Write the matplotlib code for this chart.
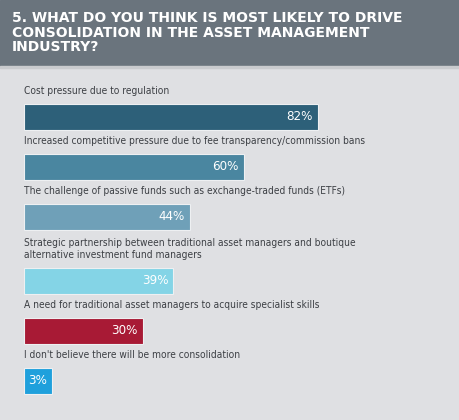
import matplotlib.pyplot as plt
from matplotlib.patches import Rectangle
from matplotlib import font_manager

title = "5. WHAT DO YOU THINK IS MOST LIKELY TO DRIVE\nCONSOLIDATION IN THE ASSET MANAGEMENT\nINDUSTRY?"

categories = [
    "Cost pressure due to regulation",
    "Increased competitive pressure due to fee transparency/commission bans",
    "The challenge of passive funds such as exchange-traded funds (ETFs)",
    "Strategic partnership between traditional asset managers and boutique\nalternative investment fund managers",
    "A need for traditional asset managers to acquire specialist skills",
    "I don't believe there will be more consolidation",
]
values = [82, 60, 44, 39, 30, 3]
colors = ["#2d6079", "#4a86a0", "#6fa0b8", "#84d4e6", "#a81a35", "#1fa0dc"]

# look for a narrow face, the original uses a condensed rounded font
faces = {(f.name, f.stretch) for f in font_manager.fontManager.ttflist}
names = {n for n, s in faces}
if "Liberation Sans Narrow" in names:
    label_font, stretch, lsize = "Liberation Sans Narrow", "normal", 7.8
elif ("DejaVu Sans", "condensed") in faces or ("DejaVu Sans", 700) in faces:
    label_font, stretch, lsize = "DejaVu Sans", "condensed", 7.3
else:
    label_font, stretch, lsize = "DejaVu Sans", "normal", 6.6

W, H = 460, 420
fig = plt.figure(figsize=(W / 100, H / 100), dpi=100)
fig.patch.set_facecolor("#dfe0e3")

# one axes over the whole figure, y in pixels from the top
ax = fig.add_axes([0, 0, 1, 1])
ax.set_facecolor("#dfe0e3")
scale = 3.365          # px per percent
pad = 5.35             # bars start a little before zero
x0 = 24                # left edge of bars in px
ax.set_xlim(-pad - x0 / scale, -pad + (W - x0) / scale)
ax.set_ylim(H, 0)
ax.axis("off")

# header band
ax.add_patch(Rectangle((ax.get_xlim()[0], 0), W / scale, 66, color="#6a747d", zorder=1))
ax.add_patch(Rectangle((ax.get_xlim()[0], 66), W / scale, 2, color="#c9cbce", zorder=1))
fig.text(12 / W, 1 - 11 / H, title, color="white", fontsize=10, fontweight="bold",
         va="top", ha="left", linespacing=1.05, family="DejaVu Sans")

# bar centres, extra room for labels that wrap
bar_h = 26
centers = []
y = 117
for i, lab in enumerate(categories):
    if i > 0:
        y += 50 + 14 * lab.count("\n")
    centers.append(y)

for lab, v, c, yc in zip(categories, values, colors, centers):
    ax.barh(yc, v + pad, left=-pad, height=bar_h, color=c,
            edgecolor="#eef0f2", linewidth=0.8, zorder=2)
    ax.text(v - 5 / scale, yc, f"{v}%", color="white", fontsize=9.5,
            ha="right", va="center", family=label_font, fontstretch=stretch, zorder=3)
    ax.text(-pad, yc - bar_h / 2 - 8, lab, color="#3c3f44", fontsize=lsize,
            ha="left", va="bottom", family=label_font, fontstretch=stretch,
            linespacing=1.25, zorder=3)

fig.savefig("out.png", dpi=100, facecolor=fig.get_facecolor())
